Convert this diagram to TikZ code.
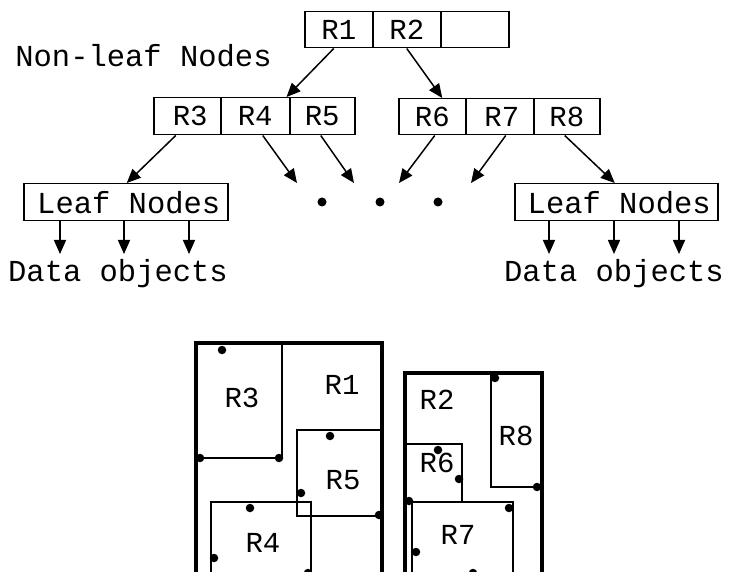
\documentclass[tikz,border=0pt]{standalone}
\usepackage{fontspec}
\setmonofont{Liberation Mono}
\usetikzlibrary{arrows.meta,calc}
\begin{document}
\begin{tikzpicture}[x=1pt,y=-1pt,
  txt/.style={font=\ttfamily\fontsize{30.5}{30.5}\selectfont, inner sep=0pt},
  cell/.style={draw, line width=1.5pt, minimum height=36pt, inner sep=0pt, anchor=north west, font=\ttfamily\fontsize{29}{29}\selectfont},
  arr/.style={line width=1.5pt, -{Triangle[length=14pt,width=12pt]}},
  dot/.style={circle, fill=black, inner sep=0pt, minimum size=9pt},
  pdot/.style={circle, fill=black, inner sep=0pt, minimum size=8.5pt},
  region/.style={line width=2pt},
  outer/.style={line width=4.5pt},
  rlab/.style={font=\ttfamily\fontsize{29}{29}\selectfont, inner sep=0pt}
]
\clip (0,0) rectangle (734,572);
\fill[white] (0,0) rectangle (734,572);

% top level
\node[cell, minimum width=68pt] (r1) at (304,11) {R1};
\node[cell, minimum width=68pt] (r2) at (372,11) {R2};
\node[cell, minimum width=68pt] (r0) at (440,11) {};
\node[txt, anchor=base] (nonleaf) at (143.5,67) {Non-leaf Nodes};

% second level
\node[cell, minimum width=67pt, minimum height=37pt] (r3) at (153,97) {\hspace*{6pt}R3};
\node[cell, minimum width=69pt, minimum height=37pt] (r4) at (220,97) {R4};
\node[cell, minimum width=65pt, minimum height=37pt] (r5) at (289,97) {R5};
\node[cell, minimum width=67pt, minimum height=36pt] (r6) at (398,98) {R6};
\node[cell, minimum width=68pt, minimum height=36pt] (r7) at (465,98) {\hspace*{4pt}R7};
\node[cell, minimum width=66pt, minimum height=36pt] (r8) at (533,98) {R8};

% leaf level
\node[cell, minimum width=204pt, minimum height=37pt, font=\ttfamily\fontsize{30.5}{30.5}\selectfont] (leafL) at (23,183) {\hspace*{6pt}Leaf Nodes};
\node[cell, minimum width=203pt, minimum height=37pt, font=\ttfamily\fontsize{30.5}{30.5}\selectfont] (leafR) at (514,183) {\hspace*{6pt}Leaf Nodes};

\node[dot] (dot1) at (322,202) {};
\node[dot] (dot2) at (380,202) {};
\node[dot] (dot3) at (438,202) {};

\coordinate (e4) at (297,183);
\coordinate (e5) at (354,183);
\coordinate (e6) at (399,183);
\coordinate (e7) at (471,183);

\draw[arr] ([xshift=-5pt]r1.south) -- ([xshift=-4pt]r4.north east);
\draw[arr] (r2.south) -- ([xshift=10pt]r6.north);
\draw[arr] ([xshift=-11.5pt]r3.south) -- ([xshift=1pt]leafL.north);
\draw[arr] ([xshift=7.5pt]r4.south) -- (e4);
\draw[arr] ([xshift=-1.5pt]r5.south) -- (e5);
\draw[arr] ([xshift=2.5pt]r6.south) -- (e6);
\draw[arr] ([xshift=6pt]r7.south) -- (e7);
\draw[arr] ([xshift=-2pt]r8.south) -- ([xshift=-1.5pt]leafR.north);

% data objects
\node[txt, anchor=base] (dL) at (118,282) {Data objects};
\node[txt, anchor=base] (dR) at (614,282) {Data objects};
\coordinate (a1) at (60,254);
\coordinate (a2) at (124,254);
\coordinate (a3) at (189,254);
\coordinate (b1) at (549,254);
\coordinate (b2) at (614,254);
\coordinate (b3) at (679,254);
\draw[arr] (leafL.south -| a1) -- (a1);
\draw[arr] (leafL.south -| a2) -- (a2);
\draw[arr] (leafL.south -| a3) -- (a3);
\draw[arr] (leafR.south -| b1) -- (b1);
\draw[arr] (leafR.south -| b2) -- (b2);
\draw[arr] (leafR.south -| b3) -- (b3);

% ---- spatial view: left MBR (R1)
\draw[region] (196,343) rectangle (282,458);
\draw[region] (297,430) rectangle (382,516);
\draw[region] (211,502) rectangle (311,574);
\draw[outer] (196,343) rectangle (382,574);
\node[rlab] (lR1) at (342,385) {R1};
\node[rlab] (lR3) at (242,398) {R3};
\node[rlab] (lR5) at (343,480) {R5};
\node[rlab] (lR4) at (263,543) {R4};
\node[pdot] (p1) at (222,350) {};
\node[pdot] (p2) at (200,458) {};
\node[pdot] (p3) at (279,458) {};
\node[pdot] (p4) at (330,436) {};
\node[pdot] (p5) at (301,493) {};
\node[pdot] (p6) at (379,515) {};
\node[pdot] (p7) at (250,508) {};
\node[pdot] (p8) at (214,558) {};
\node[pdot] (p9) at (308,573) {};

% ---- spatial view: right MBR (R2)
\draw[region] (491,373) rectangle (542,487);
\draw[region] (405,444) rectangle (462,502);
\draw[region] (412,502) rectangle (513,574);
\draw[outer] (405,373) rectangle (542,574);
\node[rlab] (lR2) at (437,400) {R2};
\node[rlab] (lR8) at (516,436) {R8};
\node[rlab] (lR6) at (437,463) {R6};
\node[rlab] (lR7) at (458,535) {R7};
\node[pdot] (q1) at (495,378) {};
\node[pdot] (q2) at (537,487) {};
\node[pdot] (q3) at (438,450) {};
\node[pdot] (q4) at (459,479) {};
\node[pdot] (q5) at (409,501) {};
\node[pdot] (q6) at (509,508) {};
\node[pdot] (q7) at (416,552) {};
\node[pdot] (q8) at (473,573) {};
\end{tikzpicture}
\end{document}
